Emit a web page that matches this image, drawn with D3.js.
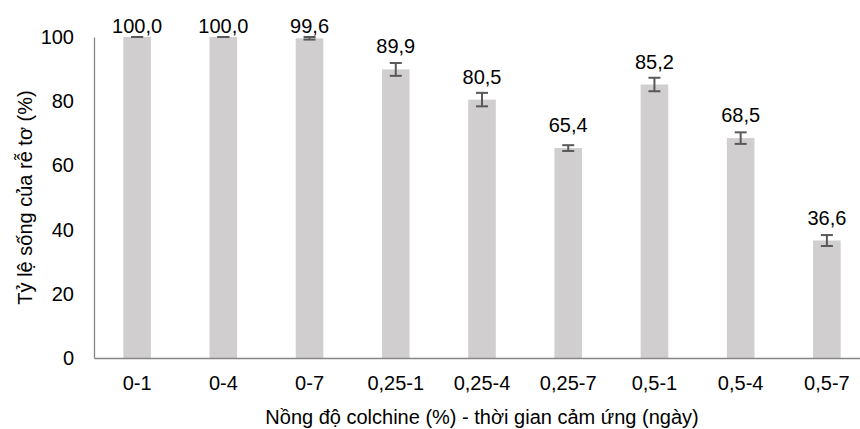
<!DOCTYPE html>
<html>
<head>
<meta charset="utf-8">
<script src="https://cdn.jsdelivr.net/npm/d3@7"></script>
<style>
  body { margin: 0; background: #fff; }
  text { font-family: "Liberation Sans", Arial, sans-serif; fill: #000; }
</style>
</head>
<body>
<div id="chart"></div>
<script>
// data
var categories = ['0-1', '0-4', '0-7', '0,25-1', '0,25-4', '0,25-7', '0,5-1', '0,5-4', '0,5-7'];
var survival = [100.0, 100.0, 99.6, 89.9, 80.5, 65.4, 85.2, 68.5, 36.6];
var errors = [0, 0, 0.4, 2.0, 2.1, 0.9, 2.1, 1.8, 1.7];
var yTicks = [0, 20, 40, 60, 80, 100];

var W = 860, H = 429;
const margin = { left: 94, right: -10, top: 37, bottom: 71 };
var width = W - margin.left - margin.right,
    height = H - margin.top - margin.bottom;
var fs = '20px';

var svg = d3.select('#chart').append('svg')
  .attr('width', W)
  .attr('height', H);

var g = svg.append('g')
  .attr('transform', 'translate(' + margin.left + ',' + margin.top + ')');

var x = d3.scaleBand()
  .domain(categories)
  .range([0, width])
  .paddingInner(0.68)
  .paddingOuter(0.34);

var y = d3.scaleLinear()
  .domain([0, 100])
  .range([height, 0]);

var fmt = function(v) { return d3.format('.1f')(v).replace('.', ','); };

// bars
g.selectAll('rect.bar')
  .data(survival)
  .enter().append('rect')
  .attr('class', 'bar')
  .attr('x', (d, i) => x(categories[i]))
  .attr('y', d => y(d))
  .attr('width', x.bandwidth())
  .attr('height', d => height - y(d))
  .attr('fill', '#d0cece');

// error bars
var eb = g.selectAll('g.err')
  .data(survival)
  .enter().append('g')
  .attr('class', 'err')
  .attr('stroke', '#595959')
  .attr('stroke-width', 2);
var cx = i => x(categories[i]) + x.bandwidth() / 2;
eb.append('line')
  .attr('x1', (d, i) => cx(i)).attr('x2', (d, i) => cx(i))
  .attr('y1', (d, i) => y(d + errors[i])).attr('y2', (d, i) => y(d - errors[i]));
eb.append('line')
  .attr('x1', (d, i) => cx(i) - 6).attr('x2', (d, i) => cx(i) + 6)
  .attr('y1', (d, i) => y(d + errors[i])).attr('y2', (d, i) => y(d + errors[i]));
eb.append('line')
  .attr('x1', (d, i) => cx(i) - 6).attr('x2', (d, i) => cx(i) + 6)
  .attr('y1', (d, i) => y(d - errors[i])).attr('y2', (d, i) => y(d - errors[i]));

// value labels
g.selectAll('text.val')
  .data(survival)
  .enter().append('text')
  .attr('class', 'val')
  .attr('x', (d, i) => cx(i))
  .attr('y', d => Math.max(y(d) - 16, -4))
  .attr('text-anchor', 'middle')
  .style('font-size', fs)
  .text(d => fmt(d));

// axes
var yAxisG = g.append('g')
  .call(d3.axisLeft(y).tickValues(yTicks).tickSize(0).tickPadding(20));
yAxisG.select('.domain').attr('stroke', '#868686').attr('stroke-width', 1.3);
yAxisG.selectAll('text').style('font-size', fs).attr('fill', '#000');

var xAxisG = g.append('g')
  .attr('transform', 'translate(0,' + height + ')')
  .call(d3.axisBottom(x).tickSize(0).tickPadding(18));
xAxisG.select('.domain').attr('stroke', '#868686').attr('stroke-width', 1.3);
xAxisG.selectAll('text').style('font-size', fs).attr('fill', '#000');

// axis titles
g.append('text')
  .attr('x', width / 2)
  .attr('y', height + 66)
  .attr('text-anchor', 'middle')
  .style('font-size', fs)
  .text('Nồng độ colchine (%) - thời gian cảm ứng (ngày)');

g.append('text')
  .attr('transform', 'rotate(-90)')
  .attr('x', -height / 2)
  .attr('y', -62)
  .attr('text-anchor', 'middle')
  .style('font-size', fs)
  .text('Tỷ lệ sống của rễ tơ (%)');
</script>
</body>
</html>
